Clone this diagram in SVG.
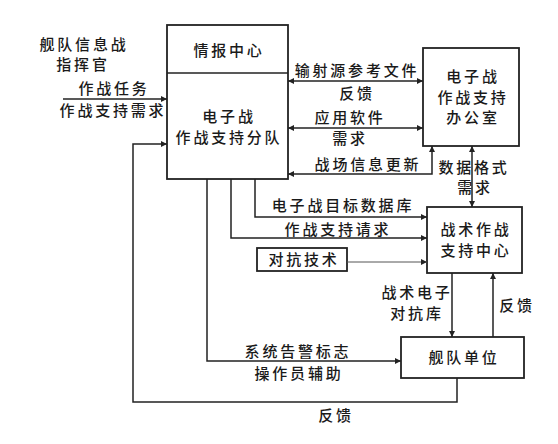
<svg xmlns="http://www.w3.org/2000/svg" width="558" height="444" viewBox="0 0 558 444">
<style>
text{font-family:"Noto Sans CJK SC","Noto Sans",sans-serif;font-size:15px;font-weight:500;fill:#1a1a1a;text-anchor:middle;letter-spacing:2.8px}
.box{fill:#fff;stroke:#222;stroke-width:1.8}
.ln{fill:none;stroke:#222;stroke-width:1.5}
.thin{fill:none;stroke:#555;stroke-width:1}
</style>
<defs>
<marker id="ah" viewBox="0 0 10 10" refX="10" refY="5" markerWidth="8" markerHeight="6" markerUnits="userSpaceOnUse" orient="auto-start-reverse"><path d="M0,0 L10,5 L0,10 z" fill="#222"/></marker>
</defs>
<rect width="558" height="444" fill="#fff"/>
<g id="commander">
<text x="84" y="50">舰队信息战</text>
<text x="83" y="70">指挥官</text>
</g>
<g id="ew-unit">
<rect class="box" x="167" y="25" width="121" height="154"/>
<line class="ln" x1="167" y1="73" x2="288" y2="73"/>
<text x="229" y="56">情报中心</text>
<text x="229" y="122">电子战</text>
<text x="229" y="143">作战支持分队</text>
</g>
<g id="ew-office">
<rect class="box" x="423" y="48" width="96" height="98"/>
<text x="473" y="82">电子战</text>
<text x="473" y="103">作战支持</text>
<text x="473" y="123">办公室</text>
</g>
<g id="tactical-center">
<rect class="box" x="427" y="207" width="95" height="66"/>
<text x="476" y="235">战术作战</text>
<text x="476" y="256">支持中心</text>
</g>
<g id="countermeasure">
<rect class="box" x="257" y="248" width="90" height="23"/>
<text x="304" y="265">对抗技术</text>
</g>
<g id="fleet-unit">
<rect class="box" x="401" y="337" width="123" height="41"/>
<text x="464" y="363">舰队单位</text>
</g>
<g id="connectors">
<line class="ln" x1="63" y1="99" x2="167" y2="99" marker-end="url(#ah)"/>
<line class="ln" x1="288" y1="81" x2="423" y2="81" marker-start="url(#ah)" marker-end="url(#ah)"/>
<line class="ln" x1="288" y1="128" x2="423" y2="128" marker-start="url(#ah)" marker-end="url(#ah)"/>
<polyline class="ln" points="432,146 432,174 288,174" marker-start="url(#ah)" marker-end="url(#ah)"/>
<line class="ln" x1="472" y1="146" x2="472" y2="207" marker-start="url(#ah)" marker-end="url(#ah)"/>
<polyline class="ln" points="255,179 255,217 427,217" marker-end="url(#ah)"/>
<polyline class="ln" points="231,179 231,238 427,238" marker-end="url(#ah)"/>
<line class="thin" x1="347" y1="262" x2="427" y2="262" marker-end="url(#ah)"/>
<polyline class="ln" points="207,179 207,361 401,361" marker-end="url(#ah)"/>
<line class="ln" x1="452" y1="273" x2="452" y2="337" marker-end="url(#ah)"/>
<line class="ln" x1="493" y1="337" x2="493" y2="273" marker-end="url(#ah)"/>
<polyline class="ln" points="457,378 457,402 133,402 133,144 167,144" marker-end="url(#ah)"/>
<text x="114" y="94">作战任务</text>
<text x="113" y="116">作战支持需求</text>
<text x="357" y="76">输射源参考文件</text>
<text x="357" y="99">反馈</text>
<text x="350" y="123">应用软件</text>
<text x="350" y="144">需求</text>
<text x="368" y="170">战场信息更新</text>
<text x="474" y="173">数据格式</text>
<text x="475" y="193">需求</text>
<text x="343" y="211">电子战目标数据库</text>
<text x="338" y="235">作战支持请求</text>
<text x="417" y="298">战术电子</text>
<text x="417" y="319">对抗库</text>
<text x="517" y="311">反馈</text>
<text x="298" y="357">系统告警标志</text>
<text x="299" y="379">操作员辅助</text>
<text x="336" y="421">反馈</text>
</g>
</svg>
